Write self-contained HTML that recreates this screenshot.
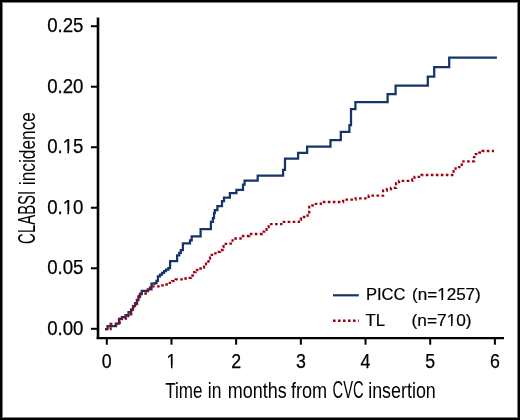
<!DOCTYPE html>
<html><head><meta charset="utf-8"><style>
html,body{margin:0;padding:0;background:#fff;}
body{width:520px;height:420px;overflow:hidden;position:relative;}
.frame{position:absolute;left:0;top:0;width:520px;height:420px;box-sizing:border-box;border-style:solid;border-color:#000;border-width:2px;box-shadow:inset 0 0 0 1px rgba(0,0,0,0.5);}
svg{position:absolute;left:0;top:0;will-change:transform;}
text{font-family:"Liberation Sans",sans-serif;fill:#000;}
.tk{font-size:19.4px;stroke:#000;stroke-width:0.25px;}
.lg{font-size:16px;stroke:#000;stroke-width:0.2px;}
.ti{font-size:22px;}
</style></head><body>
<svg width="520" height="420" viewBox="0 0 520 420">
<path d="M98 17.6 V339" stroke="#000" stroke-width="2.6" fill="none"/>
<path d="M96.7 338.1 H504" stroke="#000" stroke-width="2.4" fill="none"/>
<path d="M90.9 26.20 H97" stroke="#000" stroke-width="2"/>
<path d="M90.9 86.72 H97" stroke="#000" stroke-width="2"/>
<path d="M90.9 147.24 H97" stroke="#000" stroke-width="2"/>
<path d="M90.9 207.76 H97" stroke="#000" stroke-width="2"/>
<path d="M90.9 268.28 H97" stroke="#000" stroke-width="2"/>
<path d="M90.9 328.80 H97" stroke="#000" stroke-width="2"/>
<path d="M106.80 338 V344.7" stroke="#000" stroke-width="2"/>
<path d="M171.48 338 V344.7" stroke="#000" stroke-width="2"/>
<path d="M236.16 338 V344.7" stroke="#000" stroke-width="2"/>
<path d="M300.84 338 V344.7" stroke="#000" stroke-width="2"/>
<path d="M365.52 338 V344.7" stroke="#000" stroke-width="2"/>
<path d="M430.20 338 V344.7" stroke="#000" stroke-width="2"/>
<path d="M494.88 338 V344.7" stroke="#000" stroke-width="2"/>
<text x="47.20" y="32.2" class="tk" textLength="36.30" lengthAdjust="spacingAndGlyphs">0.25</text>
<text x="47.20" y="92.7" class="tk" textLength="36.30" lengthAdjust="spacingAndGlyphs">0.20</text>
<text x="47.20" y="153.2" class="tk" textLength="36.30" lengthAdjust="spacingAndGlyphs">0.15</text>
<text x="47.20" y="213.8" class="tk" textLength="36.30" lengthAdjust="spacingAndGlyphs">0.10</text>
<text x="47.20" y="274.3" class="tk" textLength="36.30" lengthAdjust="spacingAndGlyphs">0.05</text>
<text x="47.20" y="334.8" class="tk" textLength="36.30" lengthAdjust="spacingAndGlyphs">0.00</text>
<text x="106.80" y="367.9" text-anchor="middle" class="tk" textLength="9.9" lengthAdjust="spacingAndGlyphs">0</text>
<text x="171.48" y="367.9" text-anchor="middle" class="tk" textLength="9.9" lengthAdjust="spacingAndGlyphs">1</text>
<text x="236.16" y="367.9" text-anchor="middle" class="tk" textLength="9.9" lengthAdjust="spacingAndGlyphs">2</text>
<text x="300.84" y="367.9" text-anchor="middle" class="tk" textLength="9.9" lengthAdjust="spacingAndGlyphs">3</text>
<text x="365.52" y="367.9" text-anchor="middle" class="tk" textLength="9.9" lengthAdjust="spacingAndGlyphs">4</text>
<text x="430.20" y="367.9" text-anchor="middle" class="tk" textLength="9.9" lengthAdjust="spacingAndGlyphs">5</text>
<text x="494.88" y="367.9" text-anchor="middle" class="tk" textLength="9.9" lengthAdjust="spacingAndGlyphs">6</text>
<path d="M105.0 329.2 H107.5 V326.2 H116.0 V323.6 H119.0 V319.2 H122.0 V317.2 H125.5 V315.2 H128.5 V312.2 H131.0 V309.5 H133.0 V306.0 H135.0 V303.0 H137.0 V300.0 H138.5 V297.0 H140.0 V294.0 H141.8 V290.8 H147.8 V289.4 H151.5 V283.5 H154.9 V283.1 H156.5 V280.8 H157.9 V276.4 H160.0 V274.7 H162.0 V272.8 H164.0 V271.2 H166.0 V269.6 H168.4 V268.0 H170.0 V266.3 H170.1 V261.2 H177.1 V255.4 H179.2 V252.9 H180.8 V250.0 H182.9 V243.3 H190.0 V240.4 H191.7 V236.3 H200.6 V229.1 H210.9 V221.9 H212.9 V218.0 H214.0 V213.0 H214.8 V210.1 H217.4 V206.2 H222.0 V201.0 H224.0 V197.7 H229.9 V193.1 H236.4 V189.8 H243.0 V184.6 H244.6 V180.5 H257.7 V175.5 H283.1 V169.8 H285.0 V158.5 H298.1 V152.9 H307.1 V146.7 H330.5 V140.0 H340.8 V131.9 H349.4 V125.0 H351.0 V109.2 H355.4 V102.0 H387.6 V94.0 H395.6 V85.5 H427.8 V76.5 H434.2 V67.0 H449.2 V57.5 H496.9" stroke="#163469" stroke-width="2.25" fill="none"/>
<path d="M105.0 329.2 H110.6 V324.0 H119.7 V318.7 H127.5 V316.0 H131.2 V310.0 H133.6 V304.0 H137.0 V300.0 H138.7 V296.0 H140.7 V293.5 H148.0 V288.0 H150.0 V286.3 H160.7 V285.4 H165.0 V284.5 H168.6 V282.8 H172.1 V281.2 H175.7 V279.4 H183.8 V278.5 H187.5 V277.8 H191.0 V275.5 H192.8 V272.2 H195.5 V270.0 H199.0 V268.5 H202.5 V267.5 H204.0 V264.2 H206.0 V261.5 H208.5 V258.5 H210.0 V254.8 H213.5 V253.3 H217.0 V251.8 H220.0 V250.0 H222.5 V247.2 H223.5 V243.8 H228.7 V243.6 H232.6 V238.5 H240.6 V236.0 H249.2 V234.0 H261.7 V231.7 H264.2 V229.8 H266.5 V227.1 H268.6 V224.2 H281.3 V221.9 H298.9 V219.8 H300.9 V217.0 H307.6 V213.8 H309.2 V205.4 H312.9 V203.9 H320.8 V202.0 H343.1 V199.6 H355.6 V198.3 H368.7 V195.7 H383.1 V190.6 H386.9 V189.0 H391.0 V187.9 H396.1 V183.2 H399.0 V180.9 H412.2 V179.5 H414.5 V176.8 H421.6 V175.0 H453.6 V171.2 H455.6 V168.3 H459.0 V167.1 H461.7 V164.6 H463.4 V161.3 H474.0 V157.1 H475.8 V154.1 H479.2 V152.7 H482.7 V151.0 H494.0" stroke="#a00014" stroke-width="2.3" fill="none" stroke-dasharray="2.6 2.4"/>
<path d="M333 295.3 H358.8" stroke="#163469" stroke-width="2.2"/>
<path d="M333 320.7 H358.8" stroke="#a00014" stroke-width="2.4" stroke-dasharray="2.6 2.4"/>
<text x="365.9" y="299.8" class="lg" textLength="39.6" lengthAdjust="spacingAndGlyphs">PICC</text>
<text x="412" y="299.8" class="lg" textLength="68.8" lengthAdjust="spacingAndGlyphs">(n=1257)</text>
<text x="365.6" y="325.8" class="lg" textLength="19.5" lengthAdjust="spacingAndGlyphs">TL</text>
<text x="411.6" y="325.8" class="lg" textLength="60" lengthAdjust="spacingAndGlyphs">(n=710)</text>
<path d="M166.9 365.6H171.0V368.9H166.9ZM172.5 365.6H176.6V368.9H172.5Z" fill="#fff"/>
<path d="M63.6 150.8H67.4V154.6H63.6ZM69.0 150.8H72.9V154.6H69.0Z" fill="#fff"/>
<path d="M63.6 211.3H67.4V215.2H63.6ZM69.0 211.3H72.9V215.2H69.0Z" fill="#fff"/>
<path d="M437.6 297.6H441.4V300.2H437.6ZM443.0 297.6H446.6V300.2H443.0Z" fill="#fff"/>
<path d="M447.1 323.6H451.0V326.4H447.1ZM452.5 323.6H456.4V326.4H452.5Z" fill="#fff"/>
<text x="165.20" y="397.9" class="ti" style="font-size:22.0px" textLength="37.30" lengthAdjust="spacingAndGlyphs">Time</text>
<text x="207.80" y="397.9" class="ti" style="font-size:22.0px" textLength="13.60" lengthAdjust="spacingAndGlyphs">in</text>
<text x="227.80" y="397.9" class="ti" style="font-size:22.0px" textLength="59.00" lengthAdjust="spacingAndGlyphs">months</text>
<text x="291.00" y="397.9" class="ti" style="font-size:22.0px" textLength="36.20" lengthAdjust="spacingAndGlyphs">from</text>
<text x="332.60" y="397.9" class="ti" style="font-size:23.0px" textLength="31.00" lengthAdjust="spacingAndGlyphs">CVC</text>
<text x="368.20" y="397.9" class="ti" style="font-size:22.0px" textLength="67.60" lengthAdjust="spacingAndGlyphs">insertion</text>
<text transform="translate(35.0 0) rotate(-90)" x="-243.90" y="0" class="ti" style="font-size:23.0px" textLength="53.10" lengthAdjust="spacingAndGlyphs">CLABSI</text>
<text transform="translate(35.0 0) rotate(-90)" x="-185.20" y="0" class="ti" style="font-size:22.0px" textLength="73.20" lengthAdjust="spacingAndGlyphs">incidence</text>
</svg>
<div class="frame"></div>
</body></html>
